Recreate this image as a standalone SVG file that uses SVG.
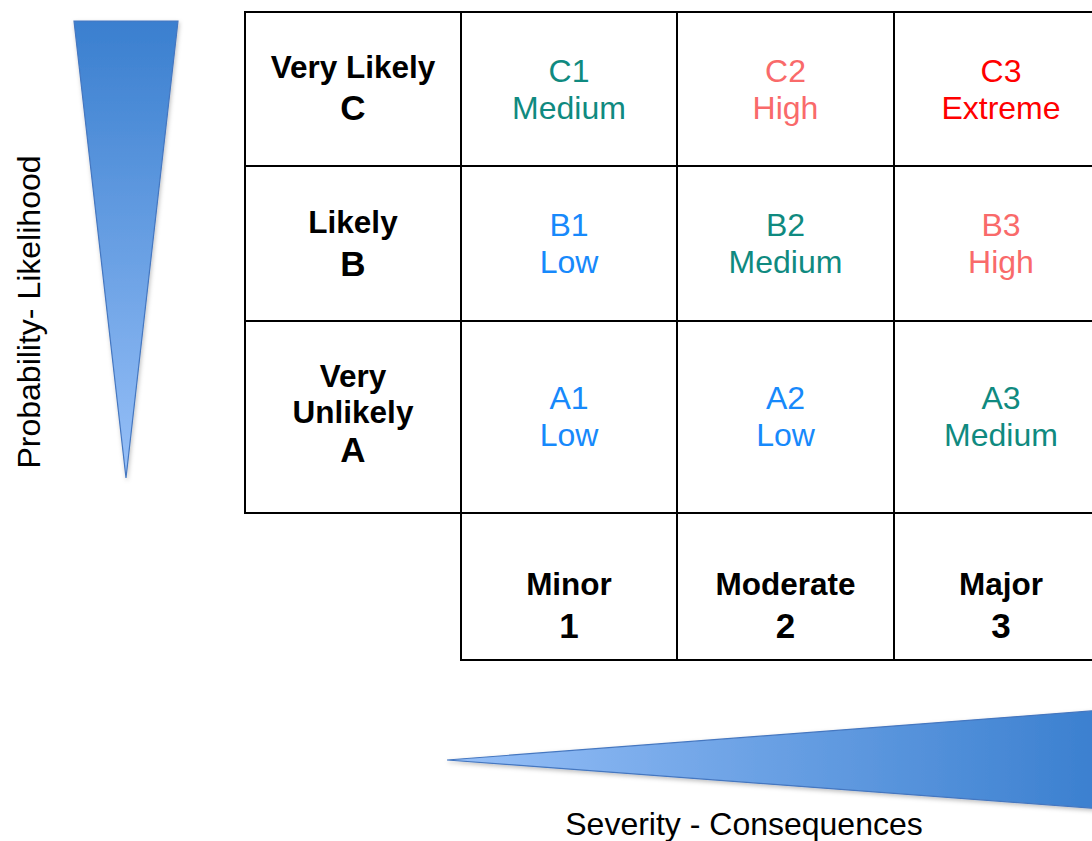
<svg xmlns="http://www.w3.org/2000/svg" width="1092" height="841" viewBox="0 0 1092 841">
<style>
  .cell{fill:#ffffff;stroke:#000000;stroke-width:2}
  .hd{font-family:"Liberation Sans",Arial,sans-serif;font-weight:bold;font-size:31.5px;fill:#000000;text-anchor:middle}
  .hl{font-family:"Liberation Sans",Arial,sans-serif;font-weight:bold;font-size:35px;fill:#000000;text-anchor:middle}
  .v{font-family:"Liberation Sans",Arial,sans-serif;font-size:32px;text-anchor:middle}
  .med{fill:#0f8a80}
  .high{fill:#f96a6a}
  .ext{fill:#ff0000}
  .low{fill:#1789fb}
  .ax{font-family:"Liberation Sans",Arial,sans-serif;font-size:32px;fill:#000000;text-anchor:middle}
  .tri{stroke:#4577c0;stroke-width:1.2;filter:url(#sh)}
</style>
<defs>
  <linearGradient id="gv" x1="0" y1="0" x2="0" y2="1">
    <stop offset="0" stop-color="#3a7fcf"/>
    <stop offset="1" stop-color="#97c0f8"/>
  </linearGradient>
  <linearGradient id="gh" x1="0" y1="0" x2="1" y2="0">
    <stop offset="0" stop-color="#97c0f8"/>
    <stop offset="1" stop-color="#3a7fcf"/>
  </linearGradient>
  <filter id="sh" x="-20%" y="-20%" width="140%" height="140%">
    <feDropShadow dx="1" dy="2" stdDeviation="2" flood-color="#000000" flood-opacity="0.25"/>
  </filter>
</defs>

<g id="prob-arrow">
  <polygon class="tri" points="74,21 178,21 126,478" fill="url(#gv)"/>
</g>
<g id="sev-arrow">
  <polygon class="tri" points="447,760 1104,710 1104,809" fill="url(#gh)"/>
</g>

<g id="prob-label">
  <text class="ax" transform="translate(40,312) rotate(-90)">Probability- Likelihood</text>
</g>
<g id="sev-label">
  <text class="ax" x="744" y="835">Severity - Consequences</text>
</g>

<g id="row-C">
  <rect class="cell" x="245" y="12" width="216" height="154"/>
  <text class="hd" x="353" y="78">Very Likely</text>
  <text class="hl" x="353" y="120">C</text>
</g>
<g id="row-B">
  <rect class="cell" x="245" y="166" width="216" height="155"/>
  <text class="hd" x="353" y="233">Likely</text>
  <text class="hl" x="353" y="276">B</text>
</g>
<g id="row-A">
  <rect class="cell" x="245" y="321" width="216" height="192"/>
  <text class="hd" x="353" y="387">Very</text>
  <text class="hd" x="353" y="423">Unlikely</text>
  <text class="hl" x="353" y="462">A</text>
</g>

<g id="C1">
  <rect class="cell" x="461" y="12" width="216" height="154"/>
  <text class="v med" x="569" y="82">C1</text>
  <text class="v med" x="569" y="119">Medium</text>
</g>
<g id="C2">
  <rect class="cell" x="677" y="12" width="217" height="154"/>
  <text class="v high" x="785.5" y="82">C2</text>
  <text class="v high" x="785.5" y="119">High</text>
</g>
<g id="C3">
  <rect class="cell" x="894" y="12" width="216" height="154"/>
  <text class="v ext" x="1001" y="82">C3</text>
  <text class="v ext" x="1001" y="119">Extreme</text>
</g>

<g id="B1">
  <rect class="cell" x="461" y="166" width="216" height="155"/>
  <text class="v low" x="569" y="236">B1</text>
  <text class="v low" x="569" y="273">Low</text>
</g>
<g id="B2">
  <rect class="cell" x="677" y="166" width="217" height="155"/>
  <text class="v med" x="785.5" y="236">B2</text>
  <text class="v med" x="785.5" y="273">Medium</text>
</g>
<g id="B3">
  <rect class="cell" x="894" y="166" width="216" height="155"/>
  <text class="v high" x="1001" y="236">B3</text>
  <text class="v high" x="1001" y="273">High</text>
</g>

<g id="A1">
  <rect class="cell" x="461" y="321" width="216" height="192"/>
  <text class="v low" x="569" y="409">A1</text>
  <text class="v low" x="569" y="446">Low</text>
</g>
<g id="A2">
  <rect class="cell" x="677" y="321" width="217" height="192"/>
  <text class="v low" x="785.5" y="409">A2</text>
  <text class="v low" x="785.5" y="446">Low</text>
</g>
<g id="A3">
  <rect class="cell" x="894" y="321" width="216" height="192"/>
  <text class="v med" x="1001" y="409">A3</text>
  <text class="v med" x="1001" y="446">Medium</text>
</g>

<g id="col-1">
  <rect class="cell" x="461" y="513" width="216" height="147"/>
  <text class="hd" x="569" y="595">Minor</text>
  <text class="hl" x="569" y="638">1</text>
</g>
<g id="col-2">
  <rect class="cell" x="677" y="513" width="217" height="147"/>
  <text class="hd" x="785.5" y="595">Moderate</text>
  <text class="hl" x="785.5" y="638">2</text>
</g>
<g id="col-3">
  <rect class="cell" x="894" y="513" width="216" height="147"/>
  <text class="hd" x="1001" y="595">Major</text>
  <text class="hl" x="1001" y="638">3</text>
</g>

<g id="connectors"></g>
</svg>
